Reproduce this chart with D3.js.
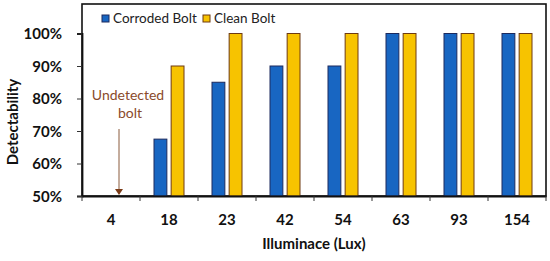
<!DOCTYPE html>
<html>
<head>
<meta charset="utf-8">
<script src="https://cdn.jsdelivr.net/npm/d3@7"></script>
<style>
  body { margin: 0; background: #fff; }
  text { font-family: Lato, "Open Sans", sans-serif; }
</style>
</head>
<body>
<div id="chart"></div>
<script>
// data
var categories = ["4", "18", "23", "42", "54", "63", "93", "154"]
var seriesNames = ["Corroded Bolt", "Clean Bolt"]
var corroded = [0, 0.675, 0.85, 0.90, 0.90, 1.00, 1.00, 1.00]
var clean = [0, 0.90, 1.00, 1.00, 1.00, 1.00, 1.00, 1.00]
var yTicks = [0.5, 0.6, 0.7, 0.8, 0.9, 1.0]

var colors = ["#1866c2", "#f7c300"]
var strokes = ["#1c2a5e", "#6e3a12"]

// set the dimensions and margins of the graph
var width = 550,
    height = 261,
    margin = {top: 4, right: 4, bottom: 65, left: 82}
var w = width - margin.left - margin.right,
    h = height - margin.top - margin.bottom

var svg = d3.select("#chart")
  .append("svg")
    .attr("width", width)
    .attr("height", height)
  .append("g")
    .attr("transform", "translate(" + margin.left + "," + margin.top + ")")

var x = d3.scaleBand()
  .domain(categories)
  .range([0, w])
  .padding(0)

var bw = x.bandwidth()
var xSub = d3.scaleBand()
  .domain(seriesNames)
  .range([bw / 2 - 15, bw / 2 + 15])
  .paddingInner(0.25)

var y = d3.scaleLinear()
  .domain([0.5, 1])
  .range([h, 29.5])

// frame
svg.append("rect")
  .attr("x", 0).attr("y", 0)
  .attr("width", w).attr("height", h)
  .attr("fill", "none")
  .attr("stroke", "#111")
  .attr("stroke-width", 1.6)

// bars
var rows = categories.map(function(c, i) {
  return {cat: c, values: [corroded[i], clean[i]]}
})

var groups = svg.selectAll(".grp")
  .data(rows)
  .enter()
  .append("g")
    .attr("transform", function(d) { return "translate(" + x(d.cat) + ",0)" })

groups.selectAll("rect")
  .data(function(d) {
    return d.values.map(function(v, j) { return {key: seriesNames[j], value: v, j: j} })
      .filter(function(e) { return e.value > 0.5 })
  })
  .enter()
  .append("rect")
    .attr("x", function(d) { return xSub(d.key) })
    .attr("y", function(d) { return y(d.value) })
    .attr("width", xSub.bandwidth())
    .attr("height", function(d) { return h - y(d.value) })
    .attr("fill", function(d) { return colors[d.j] })
    .attr("stroke", function(d) { return strokes[d.j] })
    .attr("stroke-width", 1)

// y axis
var yAxis = svg.append("g")
  .call(d3.axisLeft(y).tickValues(yTicks).tickFormat(d3.format(".0%")).tickSize(5).tickPadding(15))
yAxis.select(".domain").attr("stroke", "#111").attr("stroke-width", 1.8)
yAxis.selectAll("line").attr("stroke", "#333")
yAxis.selectAll("text")
  .style("font-size", "15px")
  .style("font-weight", "bold")
  .attr("fill", "#111")
  .attr("dy", "0.36em")

// x axis, ticks sit between the categories
var xAxis = svg.append("g")
  .attr("transform", "translate(0," + h + ")")
  .call(d3.axisBottom(x).tickSize(0).tickPadding(18))
xAxis.select(".domain").attr("stroke", "#111").attr("stroke-width", 1.8)
xAxis.selectAll("text")
  .style("font-size", "15px")
  .style("font-weight", "bold")
  .attr("fill", "#111")

xAxis.selectAll(".sep")
  .data(categories.concat(["end"]))
  .enter()
  .append("line")
    .attr("x1", function(d, i) { return i * bw })
    .attr("x2", function(d, i) { return i * bw })
    .attr("y1", 0).attr("y2", 5)
    .attr("stroke", "#333")

// axis titles
svg.append("text")
  .attr("x", w / 2)
  .attr("y", h + 53)
  .attr("text-anchor", "middle")
  .style("font-size", "15px")
  .style("font-weight", "bold")
  .attr("fill", "#111")
  .text("Illuminace (Lux)")

svg.append("text")
  .attr("transform", "translate(" + (-64) + "," + 118 + ") rotate(-90)")
  .attr("text-anchor", "middle")
  .style("font-size", "15px")
  .style("font-weight", "bold")
  .attr("fill", "#111")
  .text("Detectability")

// legend
var legend = svg.selectAll(".legend")
  .data(seriesNames)
  .enter()
  .append("g")
    .attr("transform", function(d, i) { return "translate(" + (20 + i * 101) + ",11)" })
legend.append("rect")
  .attr("width", 7).attr("height", 7)
  .attr("fill", function(d, i) { return colors[i] })
  .attr("stroke", function(d, i) { return strokes[i] })
legend.append("text")
  .attr("x", 11).attr("y", 7.5)
  .style("font-size", "13.5px")
  .attr("fill", "#222")
  .text(function(d) { return d })

// annotation for the missing bolt
var ann = svg.append("g").attr("fill", "#8a4a2a")
ann.append("text")
  .attr("x", 46).attr("y", 96)
  .attr("text-anchor", "middle")
  .style("font-size", "14px")
  .text("Undetected")
ann.append("text")
  .attr("x", 48).attr("y", 114)
  .attr("text-anchor", "middle")
  .style("font-size", "14px")
  .text("bolt")
ann.append("line")
  .attr("x1", 37).attr("x2", 37)
  .attr("y1", 125).attr("y2", h - 6)
  .attr("stroke", "#8a5a3c")
  .attr("stroke-width", 1)
ann.append("path")
  .attr("d", "M" + 33 + "," + (h - 7) + "L" + 41 + "," + (h - 7) + "L37," + (h - 1) + "Z")
  .attr("fill", "#7a3a16")
</script>
</body>
</html>
